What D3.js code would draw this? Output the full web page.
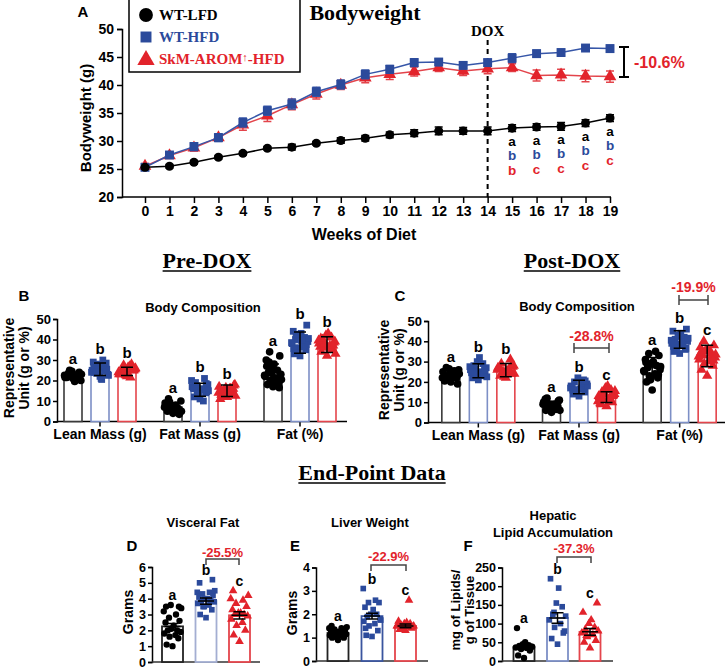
<!DOCTYPE html>
<html><head><meta charset="utf-8">
<script src="https://cdn.jsdelivr.net/npm/d3@7"></script>
<style>body{margin:0;background:#fff}svg{display:block}</style>
</head><body>
<script>
// ---------- DATA ----------
const weeks = [0,1,2,3,4,5,6,7,8,9,10,11,12,13,14,15,16,17,18,19];
const bwTicks = [20,25,30,35,40,45,50];
const bwLFD  = [25.3,25.5,26.2,27.1,27.8,28.7,28.9,29.6,30.1,30.5,31.1,31.4,31.8,31.8,31.8,32.3,32.5,32.6,33.2,34.1];
const bwHFD  = [25.3,27.5,29.0,30.6,33.3,35.4,36.6,38.8,40.1,41.9,42.8,44.0,44.1,43.5,44.0,44.8,45.6,45.8,46.6,46.5];
const bwAROM = [25.5,27.4,28.8,30.6,32.9,34.5,36.5,38.4,40.0,41.3,41.9,42.4,43.1,42.5,42.9,43.1,41.7,41.8,41.6,41.5];
const semLFD  = [0.3,0.3,0.3,0.3,0.3,0.3,0.5,0.3,0.5,0.5,0.5,0.6,0.7,0.6,0.7,0.6,0.6,0.7,0.6,0.6];
const semHFD  = [0.4,0.5,0.7,0.7,0.8,0.8,0.9,0.8,0.8,0.8,0.7,0.7,0.6,0.6,0.6,0.8,0.6,0.5,0.4,0.6];
const semAROM = [0.5,0.5,0.6,0.6,1.0,1.0,0.9,0.9,0.8,0.9,0.9,0.8,0.7,0.8,0.9,0.7,1.0,1.0,1.0,1.0];
const letterWeeks = [15,16,17,18,19];
const lettersLFD  = ["a","a","a","a","a"];
const lettersHFD  = ["b","b","b","b","b"];
const lettersAROM = ["b","c","c","c","c"];
const groupNames = ["WT-LFD","WT-HFD","SkM-AROM"];

const compCategories = ["Lean Mass (g)","Fat Mass (g)","Fat (%)"];
const compTicks = [0,10,20,30,40,50];
// Pre-DOX
const preLFD = [
 [21,22,23,24,22.5,21.5,20,23.5,22,24.5,21,22,23,25,20.5,22.5,23,21.5,24,22,19.5,23],
 [4,5,6,7,8,9,10,11,6.5,7.5,5.5,8.5,4.5,9.5,6,7,5,8,3.5,7],
 [17,18,19,20,21,22,23,24,25,26,28,30,32,34,19.5,22.5,20.5,27,16.5,23.5,21,29]];
const preHFD = [
 [22,24,26,28,30,25,23,27,24.5,26.5,21,29,25.5,23.5,27.5,24,22.5,26,28.5,25,20.5,24],
 [11,12,14,15,16,17,18,19,21,13,15.5,16.5,14.5,17.5,10,20,15,16,18.5,13.5],
 [32,33,35,36,37,38,39,40,41,42,43,44,47,34,36.5,38.5,40.5,35.5,37.5,33.5,39.5,42.5]];
const preAROM = [
 [22,24,25,26,27,23,25.5,24.5,28,22.5,26.5,23.5,25,27.5,21.5,24,26,23,25,24.5],
 [12,13,14,15,16,17,18,14.5,15.5,16.5,13.5,11,17.5,15,16,14,12.5,15,16,13],
 [32,34,35,36,37,38,39,40,41,42,43,36.5,38.5,37.5,35.5,39.5,33,40.5,37,38]];
const preMeanLFD = [22.5,7.0,23.0],  preSdLFD = [1.5,2.0,5.0];
const preMeanHFD = [25.5,15.5,38.5], preSdHFD = [3.0,3.2,5.2];
const preMeanAROM= [24.5,15.0,37.5], preSdAROM= [2.0,2.8,3.8];
const preLetters = [["a","b","b"],["a","b","b"],["a","b","b"]];
// Post-DOX
const postLFD = [
 [20,21,22,23,24,25,26,27,22.5,23.5,24.5,21.5,19,23,25.5,22,24,20.5,23,26.5],
 [5,6,7,8,9,10,11,12,6.5,7.5,8.5,9.5,10.5,7,8,9,6,11.5,8,9],
 [16,20,22,23,24,25,26,27,28,29,30,31,33,34,35,25.5,27.5,29.5,23.5,21]];
const postHFD = [
 [21,22,23,24,25,26,27,28,29,30,32,24.5,25.5,26.5,23.5,27.5,22.5,25,26,24],
 [13,14,15,16,17,18,19,20,21,22,16.5,17.5,18.5,15.5,19.5,17,18,16,20.5,14.5],
 [34,35,36,37,38,39,40,41,42,43,44,45,46,38.5,39.5,40.5,41.5,37.5,36.5,42.5]];
const postAROM = [
 [22,23,24,25,26,27,28,29,31,24.5,25.5,26.5,27.5,23.5,25,26,24,27,28.5,22.5],
 [8,9,10,11,12,13,14,15,16,17,18,12.5,13.5,14.5,11.5,10.5,15.5,9.5,13,14],
 [23,26,28,29,30,31,32,33,34,35,36,37,38,40,31.5,32.5,33.5,34.5,30.5,35.5]];
const postMeanLFD = [23.5,8.5,27.0],  postSdLFD = [2.0,2.0,5.0];
const postMeanHFD = [25.5,17.5,40.9], postSdHFD = [3.5,3.3,4.3];
const postMeanAROM= [25.8,12.5,32.8], postSdAROM= [3.3,2.7,5.3];
const postLetters = [["a","b","b"],["a","b","c"],["a","b","c"]];
const postPct = ["-28.8%","-19.9%"];

// End-point
const vfTicks = [0,1,2,3,4,5,6];
const vfLFD  = [1.0,1.1,1.5,1.6,1.7,1.8,1.9,2.0,2.0,2.1,2.3,2.5,2.6,2.8,3.0,3.2,3.4,3.5,3.5,3.6];
const vfHFD  = [2.8,3.0,3.3,3.5,3.6,3.7,3.8,3.8,3.9,4.0,4.0,4.1,4.2,4.3,4.4,4.4,4.5,5.0,5.2,3.5];
const vfAROM = [1.3,1.7,2.0,2.3,2.5,2.7,2.9,3.0,3.0,3.1,3.1,3.3,3.5,3.7,3.9,4.0,4.2,4.5];
const vfMean = [2.25,3.85,2.95], vfSem = [0.18,0.2,0.23];
const lwTicks = [0,1,2,3,4];
const lwLFD  = [0.9,1.0,1.0,1.05,1.1,1.1,1.15,1.2,1.2,1.2,1.25,1.3,1.3,1.35,1.4,1.4,1.45,1.5,1.1,1.2];
const lwHFD  = [1.05,1.1,1.3,1.5,1.6,1.7,1.8,1.9,2.0,2.0,2.2,2.3,2.5,2.5,2.6,3.1,1.75,1.4];
const lwAROM = [1.3,1.35,1.4,1.4,1.45,1.5,1.5,1.55,1.6,1.6,1.65,1.7,1.45,1.35,2.6,1.5];
const lwMean = [1.2,1.92,1.5], lwSem = [0.04,0.12,0.08];
const hlTicks = [0,50,100,150,200,250];
const hlLFD  = [8,15,28,32,35,36,38,40,42,45,50,88,38];
const hlHFD  = [45,60,75,90,100,110,120,125,145,155,195,220,80,130];
const hlAROM = [35,50,55,65,70,75,80,85,90,100,110,130,155,68];
const hlMean = [37,115,78], hlSem = [6,14,9];
const endLetters = ["a","b","c"];
const endPct = ["-25.5%","-22.9%","-37.3%"];

// ---------- STYLE ----------
const SANS = "'Liberation Sans', Arial, sans-serif";
const SERIF = "'Liberation Serif', 'Times New Roman', serif";
const BLU = "#2b4a9b", RED = "#e2232b";
const SER = [
  {fill:"#000", stroke:"#3a3a3a", sym:d3.symbolCircle, text:"#000"},
  {fill:BLU, stroke:"#7d8fc6", sym:d3.symbolSquare, text:BLU},
  {fill:RED, stroke:"#e4454c", sym:d3.symbolTriangle, text:RED}
];
const JIT = [0,-5,5,-2.5,2.5,-7,7,-4,4,-1,1,-6,6,-3,3,-7.5,7.5,-5.5,5.5,-1.5,1.5,-3.5];

const svg = d3.select("body").append("svg").attr("width",727).attr("height",672);

function txt(x,y,s,size,opt={}){
  return svg.append("text").attr("x",x).attr("y",y).text(s)
    .attr("font-family",opt.serif?SERIF:SANS).attr("font-weight","bold")
    .attr("font-size",size).attr("fill",opt.fill||"#000")
    .attr("text-anchor",opt.anchor||"middle");
}
function vtxt(x,y,s,size){
  return svg.append("text").attr("transform",`translate(${x},${y}) rotate(-90)`)
    .attr("text-anchor","middle").attr("dominant-baseline","central")
    .attr("font-family",SANS).attr("font-weight","bold").attr("font-size",size).text(s);
}
function styleAxis(g,size){
  g.attr("font-family",SANS).attr("font-weight","bold").attr("font-size",size);
  g.selectAll("text").attr("fill","#000");
  g.selectAll("line,path").attr("stroke","#000").attr("stroke-width",1.5);
}
function line(x1,y1,x2,y2,stroke="#000",w=1.5){
  return svg.append("line").attr("x1",x1).attr("y1",y1).attr("x2",x2).attr("y2",y2)
    .attr("stroke",stroke).attr("stroke-width",w);
}

// ---------- PANEL A ----------
const xA = d3.scaleLinear().domain([0,19]).range([145,610]);
const yA = d3.scaleLinear().domain([20,50]).range([197,29]);
svg.append("g").attr("transform","translate(122,0)")
  .call(d3.axisLeft(yA).tickValues(bwTicks).tickFormat(d3.format("d")).tickSizeOuter(0).tickSize(5).tickPadding(3))
  .call(g=>styleAxis(g,14));
svg.append("g").attr("transform","translate(0,197)")
  .call(d3.axisBottom(xA).tickValues(weeks).tickFormat(d3.format("d")).tickSizeOuter(0))
  .call(g=>g.select(".domain").remove()).call(g=>styleAxis(g,14));
line(122,197,611,197);
txt(364,240,"Weeks of Diet",16);
vtxt(85,118,"Bodyweight (g)",15);
txt(83,17,"A",15);
txt(365,20,"Bodyweight",22,{serif:true});

// DOX line
line(xA(14),40,xA(14),197,"#000",2).attr("stroke-dasharray","5,4");
txt(xA(14),36,"DOX",15,{serif:true});

const seriesA = [
  {v:bwAROM, e:semAROM, s:SER[2], line:"#e3444b", size:70},
  {v:bwHFD, e:semHFD, s:SER[1], line:"#3656a8", size:80},
  {v:bwLFD, e:semLFD, s:SER[0], line:"#000", size:64}
];
seriesA.forEach(S=>{
  const g = svg.append("g");
  g.append("path").datum(weeks).attr("fill","none").attr("stroke",S.line).attr("stroke-width",1.5)
    .attr("d",d3.line().x(w=>xA(w)).y((w,i)=>yA(S.v[i])));
  weeks.forEach((w,i)=>{
    const x=xA(w), y1=yA(S.v[i]-S.e[i]), y2=yA(S.v[i]+S.e[i]);
    g.append("path").attr("d",`M${x},${y1}V${y2}M${x-4},${y1}H${x+4}M${x-4},${y2}H${x+4}`)
      .attr("stroke",S.line).attr("stroke-width",1.5).attr("fill","none");
  });
  g.selectAll(".m").data(weeks).enter().append("path")
    .attr("transform",(w,i)=>`translate(${xA(w)},${yA(S.v[i])})`)
    .attr("d",d3.symbol().type(S.s.sym).size(S.size)).attr("fill",S.s.fill);
});
// letters
letterWeeks.forEach((w,k)=>{
  const base = yA(bwLFD[weeks.indexOf(w)]);
  txt(xA(w),base+17.5,lettersLFD[k],13.5,{fill:"#000"});
  txt(xA(w),base+32,lettersHFD[k],13.5,{fill:BLU});
  txt(xA(w),base+46.5,lettersAROM[k],13.5,{fill:RED});
});
// -10.6% bracket
svg.append("path").attr("d","M619,47H629M624,47V77M619,77H629").attr("stroke","#000").attr("stroke-width",2).attr("fill","none");
txt(634,68,"-10.6%",16,{fill:RED,anchor:"start"});

// legend
svg.append("rect").attr("x",129).attr("y",-1).attr("width",171).attr("height",73)
  .attr("fill","#fff").attr("stroke","#000").attr("stroke-width",1.5);
const legY = [15,37,59], legSize=[150,120,130];
groupNames.forEach((n,i)=>{
  svg.append("path").attr("transform",`translate(146,${legY[i]+(i==2?1:0)})`)
    .attr("d",d3.symbol().type(SER[i].sym).size(legSize[i])).attr("fill",SER[i].fill);
  const t = txt(159,legY[i]+5,"",15,{serif:true,fill:SER[i].text,anchor:"start"});
  if(i<2) t.text(n);
  else { t.append("tspan").text(n); t.append("tspan").text("↑").attr("font-size",11).attr("dy",-3);
         t.append("tspan").text("-HFD").attr("dy",3); }
});

// ---------- PANELS B & C ----------
function drawGroup(cx,bw,y,vals,mean,err,si,letter,symSize,opt={}){
  const S=SER[si];
  svg.append("rect").attr("x",cx-bw/2).attr("y",y(mean)).attr("width",bw).attr("height",y(0)-y(mean))
    .attr("fill","#fff").attr("stroke",opt.stroke?opt.stroke[si]:S.stroke).attr("stroke-width",opt.bs||1.6);
  svg.append("g").selectAll("path").data(vals).enter().append("path")
    .attr("transform",(v,i)=>`translate(${cx+JIT[i%JIT.length]*bw/(opt.jd||16)},${y(v)})`)
    .attr("d",d3.symbol().type(S.sym).size(symSize)).attr("fill",S.fill);
  const cw = opt.cw||6;
  const y1=y(mean-err), y2=y(mean+err);
  let d=`M${cx},${y1}V${y2}M${cx-cw},${y1}H${cx+cw}M${cx-cw},${y2}H${cx+cw}`;
  if(opt.meanLine) d+=`M${cx-cw-2},${y(mean)}H${cx+cw+2}`;
  svg.append("path").attr("d",d).attr("stroke","#000").attr("stroke-width",1.5).attr("fill","none");
  const top = Math.min(y(d3.max(vals)), y2);
  txt(cx,top-(opt.lo||6),letter,opt.ls||15);
}
function bracket(x1,x2,y,label,size,down,ly){
  const d = down ? `M${x1},${y+6}V${y}H${x2}V${y+6}` : `M${x1},${y-5}V${y+5}M${x1},${y}H${x2}M${x2},${y-5}V${y+5}`;
  svg.append("path").attr("d",d).attr("stroke","#444").attr("stroke-width",1.5).attr("fill","none");
  txt((x1+x2)/2,ly,label,size,{fill:RED});
}

function compPanel(o){
  const y = d3.scaleLinear().domain([0,50]).range([o.y0,o.y50]);
  const x = d3.scaleBand().domain(compCategories).range(o.xr);
  svg.append("g").attr("transform",`translate(${o.ax},0)`)
    .call(d3.axisLeft(y).tickValues(compTicks).tickFormat(d3.format("d")).tickSizeOuter(0).tickSize(4).tickPadding(2))
    .call(g=>styleAxis(g,13));
  svg.append("g").attr("transform",`translate(0,${o.y0})`)
    .call(d3.axisBottom(x).tickSizeOuter(0).tickSize(5)).call(g=>g.select(".domain").remove()).call(g=>styleAxis(g,14));
  line(o.ax,o.y0,o.axEnd,o.y0);
  compCategories.forEach((c,ci)=>{
    const cx = x(c)+x.bandwidth()/2;
    [o.lfd,o.hfd,o.arom].forEach((arr,si)=>{
      drawGroup(cx+o.off[si],18,y,arr[ci],o.means[si][ci],o.sds[si][ci],si,o.letters[ci][si],46);
    });
  });
  return {x,y};
}
// titles
function underTitle(cx,y,s){
  const t = txt(cx,y,s,22,{serif:true});
  const w = t.node().getComputedTextLength();
  line(cx-w/2,y+3,cx+w/2,y+3,"#000",1.5);
}
underTitle(207,268,"Pre-DOX");
underTitle(572,268,"Post-DOX");

txt(24,301,"B",15);
txt(203,312,"Body Composition",13);
vtxt(9,368,"Representative",14);
vtxt(24,368,"Unit (g or %)",14);
compPanel({y0:421.5,y50:319,ax:57,axEnd:347,xr:[50,350],off:[-27,0,27],
  lfd:preLFD,hfd:preHFD,arom:preAROM,
  means:[preMeanLFD,preMeanHFD,preMeanAROM],sds:[preSdLFD,preSdHFD,preSdAROM],letters:preLetters});

txt(400,301,"C",15);
txt(577,311,"Body Composition",13);
vtxt(384,370,"Representative",14);
vtxt(399,370,"Unit (g or %)",14);
compPanel({y0:422.5,y50:321,ax:428,axEnd:725,xr:[428,730],off:[-27.5,0,27.5],
  lfd:postLFD,hfd:postHFD,arom:postAROM,
  means:[postMeanLFD,postMeanHFD,postMeanAROM],sds:[postSdLFD,postSdHFD,postSdAROM],letters:postLetters});
bracket(574,609,348,postPct[0],14,false,341);
bracket(679,708,300,postPct[1],14,false,292);

// ---------- END-POINT ----------
underTitle(372,480,"End-Point Data");
function endPanel(o){
  const y = d3.scaleLinear().domain([o.ticks[0],o.ticks[o.ticks.length-1]]).range([o.y0,o.yt]);
  svg.append("g").attr("transform",`translate(${o.ax},0)`)
    .call(d3.axisLeft(y).tickValues(o.ticks).tickFormat(d3.format("d")).tickSizeOuter(0).tickSize(4).tickPadding(2))
    .call(g=>styleAxis(g,12.5));
  line(o.ax,o.y0,o.axEnd,o.y0,"#333",1.5);
  [o.lfd,o.hfd,o.arom].forEach((arr,si)=>{
    drawGroup(o.cx[si],21,y,arr,o.mean[si],o.sem[si],si,endLetters[si],32,
      {cw:6,meanLine:true,ls:14,lo:5,jd:18,bs:1.8,stroke:o.stroke});
  });
}
txt(203,527,"Visceral Fat",13);
txt(132,551,"D",15);
vtxt(128,612,"Grams",14);
endPanel({ticks:vfTicks,y0:662,yt:567,ax:152,axEnd:260,cx:[172.5,206,239.5],
  lfd:vfLFD,hfd:vfHFD,arom:vfAROM,mean:vfMean,sem:vfSem,stroke:["#222","#a4aed2","#e4454c"]});
bracket(206,239,559,endPct[0],13,true,557);

txt(370,527,"Liver Weight",13);
txt(295,551,"E",15);
vtxt(292,613,"Grams",14);
endPanel({ticks:lwTicks,y0:661,yt:567.5,ax:316,axEnd:428,cx:[338,372,405.5],
  lfd:lwLFD,hfd:lwHFD,arom:lwAROM,mean:lwMean,sem:lwSem,stroke:["#222","#3a559f","#e4454c"]});
bracket(371,406,565,endPct[1],13,true,561);

txt(553,520,"Hepatic",13);
txt(553,537,"Lipid Accumulation",13);
txt(468,551,"F",15);
vtxt(455,610,"mg of Lipids/",13);
vtxt(469,610,"g of Tissue",13);
endPanel({ticks:hlTicks,y0:661,yt:567.5,ax:502,axEnd:613,cx:[524,557.5,590],
  lfd:hlLFD,hfd:hlHFD,arom:hlAROM,mean:hlMean,sem:hlSem,stroke:["#222","#7d8fc6","#e4454c"]});
bracket(557,591,557,endPct[2],13,true,553);
</script>
</body></html>
